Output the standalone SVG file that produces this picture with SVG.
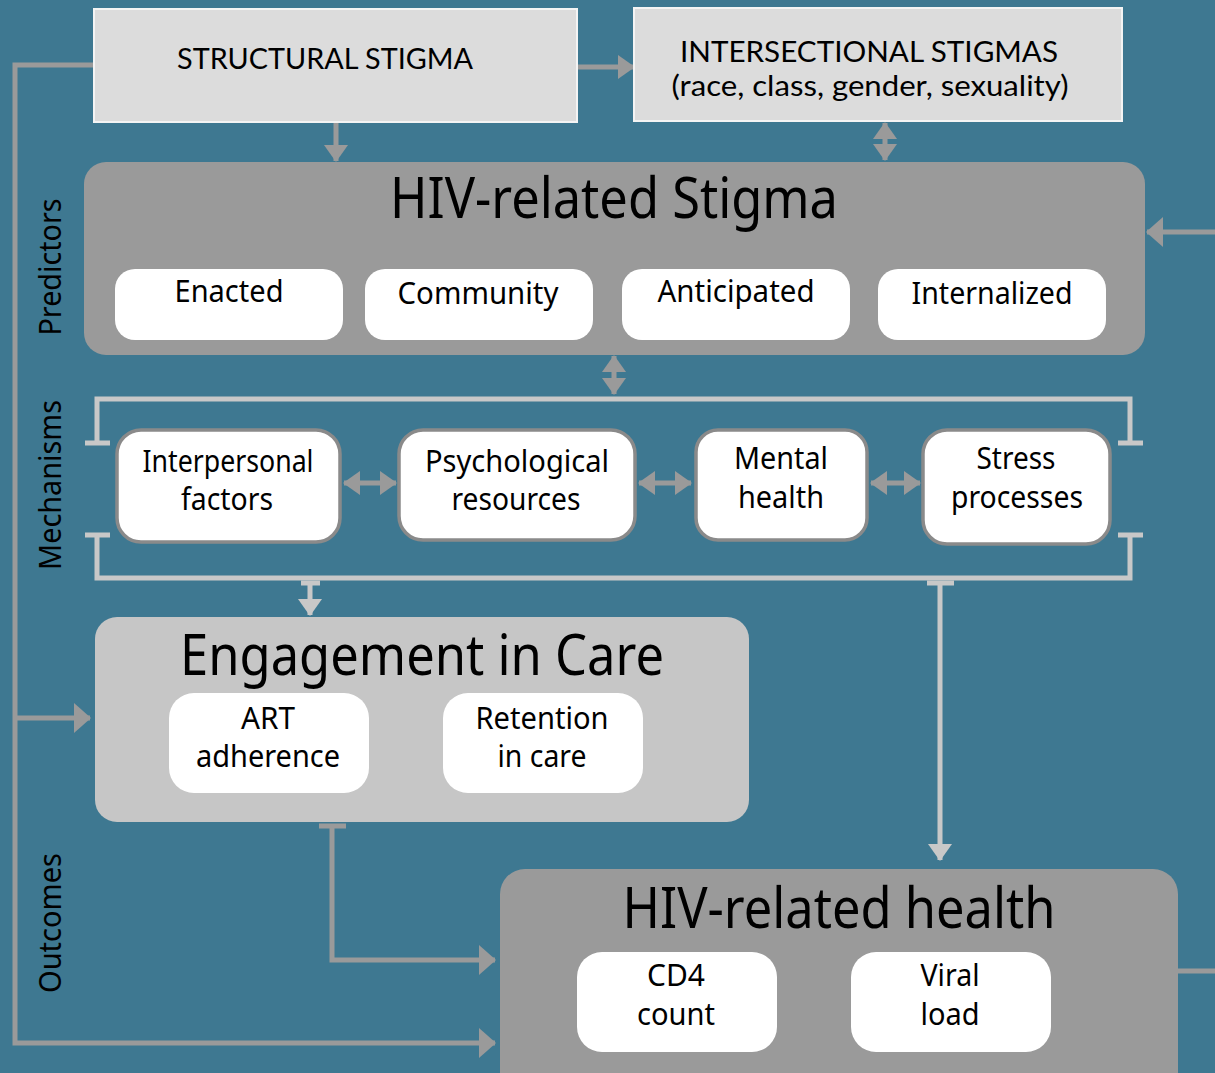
<svg xmlns="http://www.w3.org/2000/svg" width="1215" height="1073" viewBox="0 0 1215 1073">
  <defs>
    <style>
      .txt { font-family: "Noto Sans", "Open Sans", "DejaVu Sans", sans-serif; fill: #000; }
      .geo { font-family: Lato, "Noto Sans", "DejaVu Sans", sans-serif; fill: #000; }
      .title { font-size: 56px; text-anchor: middle; }
      .lbl { font-size: 30px; text-anchor: middle; }
      .side { font-size: 30px; text-anchor: middle; }
      .topbox { fill: #dcdcdc; stroke: #f4f4f4; stroke-width: 2; }
      .panel-dark { fill: #9a9a9a; }
      .panel-light { fill: #c6c6c6; }
      .chip { fill: #ffffff; }
      .mech { fill: #ffffff; stroke: #8a8a8a; stroke-width: 3.5; }
      .gray { fill: none; stroke: #9a9a9a; stroke-width: 5; }
      .light { fill: none; stroke: #c8c8c8; stroke-width: 5; }
      .white { fill: none; stroke: #ffffff; stroke-width: 4; }
    </style>
    <marker id="ahGrayL" markerUnits="userSpaceOnUse" markerWidth="18" markerHeight="30" refX="16" refY="15" orient="auto-start-reverse">
      <path d="M0,0 L17,15 L0,30 Z" fill="#9a9a9a"/>
    </marker>
    <marker id="ahGray" markerUnits="userSpaceOnUse" markerWidth="18" markerHeight="24" refX="16" refY="12" orient="auto-start-reverse">
      <path d="M0,0 L17,12 L0,24 Z" fill="#9a9a9a"/>
    </marker>
    <marker id="ahLight" markerUnits="userSpaceOnUse" markerWidth="18" markerHeight="24" refX="16" refY="12" orient="auto-start-reverse">
      <path d="M0,0 L17,12 L0,24 Z" fill="#c8c8c8"/>
    </marker>
    <marker id="ahWhite" markerUnits="userSpaceOnUse" markerWidth="18" markerHeight="24" refX="16" refY="12" orient="auto-start-reverse">
      <path d="M0,0 L17,12 L0,24 Z" fill="#ffffff"/>
    </marker>
  </defs>

  <!-- backdrop -->
  <rect x="0" y="0" width="1215" height="1073" fill="#3e7891"/>

  <!-- section labels -->
  <g id="section-labels" class="txt side">
    <text class="side" transform="translate(61,267) rotate(-90)" textLength="137" lengthAdjust="spacingAndGlyphs">Predictors</text>
    <text class="side" transform="translate(61,485) rotate(-90)" textLength="170" lengthAdjust="spacingAndGlyphs">Mechanisms</text>
    <text class="side" transform="translate(61,923) rotate(-90)" textLength="140" lengthAdjust="spacingAndGlyphs">Outcomes</text>
  </g>

  <!-- connectors -->
  <g id="connectors">
    <!-- structural stigma feeding the outcome boxes along the left edge -->
    <path class="gray" d="M94,65 H15 V1043 H495" marker-end="url(#ahGrayL)"/>
    <path class="gray" d="M15,718 H90" marker-end="url(#ahGrayL)"/>
    <!-- structural -> intersectional -->
    <path class="gray" d="M578,67 H634" marker-end="url(#ahGray)" stroke-width="4"/>
    <!-- structural -> HIV-related stigma -->
    <path class="gray" d="M336,122 V161" marker-end="url(#ahGray)" stroke-width="4"/>
    <!-- intersectional <-> HIV-related stigma -->
    <path class="gray" d="M885,123 V160" marker-start="url(#ahGray)" marker-end="url(#ahGray)" stroke-width="4"/>
    <!-- feedback into HIV-related stigma from the right -->
    <path class="gray" d="M1215,232 H1147" marker-end="url(#ahGrayL)"/>
    <!-- HIV-related health exits right -->
    <path class="gray" d="M1178,971 H1215"/>
    <!-- HIV-related stigma <-> mechanisms -->
    <path class="gray" d="M614,356 V394" marker-start="url(#ahGray)" marker-end="url(#ahGray)" stroke-width="4"/>

    <!-- mechanisms bracket -->
    <path class="light" d="M97,444 V399 H1130 V444"/>
    <path class="light" d="M85,443 H110 M1118,443 H1143"/>
    <path class="light" d="M97,534 V578 H1130 V534"/>
    <path class="light" d="M85,535 H110 M1118,535 H1143"/>

    <!-- links between mechanisms -->
    <path class="gray" d="M344,483 H396" marker-start="url(#ahGray)" marker-end="url(#ahGray)" stroke-width="4"/>
    <path class="gray" d="M639,483 H691" marker-start="url(#ahGray)" marker-end="url(#ahGray)" stroke-width="4"/>
    <path class="gray" d="M871,483 H920" marker-start="url(#ahGray)" marker-end="url(#ahGray)" stroke-width="4"/>

    <!-- mechanisms -> engagement in care -->
    <path class="light" d="M301,583 H320"/>
    <path class="light" d="M310,583 V615" marker-end="url(#ahLight)" stroke-width="4"/>
    <!-- mechanisms -> HIV-related health -->
    <path class="light" d="M927,583 H954"/>
    <path class="light" d="M940,583 V860" marker-end="url(#ahLight)" stroke-width="4"/>

    <!-- engagement in care -> HIV-related health -->
    <path class="gray" d="M319,826 H346"/>
    <path class="gray" d="M332,826 V960 H495" marker-end="url(#ahGrayL)"/>

    <!-- ART adherence <-> retention -->
    <path class="white" d="M373,742 H439" marker-start="url(#ahWhite)" marker-end="url(#ahWhite)"/>
  </g>

  <!-- top row -->
  <g id="structural-stigma">
    <rect class="topbox" x="94" y="9" width="483" height="113"/>
    <text class="geo" x="325" y="69" font-size="29" text-anchor="middle" textLength="296" lengthAdjust="spacingAndGlyphs">STRUCTURAL STIGMA</text>
  </g>
  <g id="intersectional-stigmas">
    <rect class="topbox" x="634" y="8" width="488" height="113"/>
    <text class="geo" x="869" y="62" font-size="29" text-anchor="middle" textLength="378" lengthAdjust="spacingAndGlyphs">INTERSECTIONAL STIGMAS</text>
    <text class="geo" x="870" y="96" font-size="29" text-anchor="middle" textLength="397" lengthAdjust="spacingAndGlyphs">(race, class, gender, sexuality)</text>
  </g>

  <!-- predictors -->
  <g id="hiv-related-stigma">
    <rect class="panel-dark" x="84" y="162" width="1061" height="193" rx="22"/>
    <text class="txt title" x="614" y="218" textLength="448" lengthAdjust="spacingAndGlyphs">HIV-related Stigma</text>
  </g>
  <g id="enacted">
    <rect class="chip" x="115" y="269" width="228" height="71" rx="20"/>
    <text class="txt lbl" x="229" y="302" textLength="109" lengthAdjust="spacingAndGlyphs">Enacted</text>
  </g>
  <g id="community">
    <rect class="chip" x="365" y="269" width="228" height="71" rx="20"/>
    <text class="txt lbl" x="478" y="304" textLength="161" lengthAdjust="spacingAndGlyphs">Community</text>
  </g>
  <g id="anticipated">
    <rect class="chip" x="622" y="269" width="228" height="71" rx="20"/>
    <text class="txt lbl" x="736" y="302" textLength="157" lengthAdjust="spacingAndGlyphs">Anticipated</text>
  </g>
  <g id="internalized">
    <rect class="chip" x="878" y="269" width="228" height="71" rx="20"/>
    <text class="txt lbl" x="992" y="304" textLength="161" lengthAdjust="spacingAndGlyphs">Internalized</text>
  </g>

  <!-- mechanisms -->
  <g id="interpersonal-factors">
    <rect class="mech" x="117" y="430" width="223" height="112" rx="24"/>
    <text class="txt lbl" x="228" y="472" textLength="171" lengthAdjust="spacingAndGlyphs">Interpersonal</text>
    <text class="txt lbl" x="227" y="510" textLength="92" lengthAdjust="spacingAndGlyphs">factors</text>
  </g>
  <g id="psychological-resources">
    <rect class="mech" x="399" y="430" width="236" height="110" rx="24"/>
    <text class="txt lbl" x="517" y="472" textLength="184" lengthAdjust="spacingAndGlyphs">Psychological</text>
    <text class="txt lbl" x="516" y="510" textLength="129" lengthAdjust="spacingAndGlyphs">resources</text>
  </g>
  <g id="mental-health">
    <rect class="mech" x="696" y="430" width="171" height="110" rx="22"/>
    <text class="txt lbl" x="781" y="469" textLength="94" lengthAdjust="spacingAndGlyphs">Mental</text>
    <text class="txt lbl" x="781" y="508" textLength="86" lengthAdjust="spacingAndGlyphs">health</text>
  </g>
  <g id="stress-processes">
    <rect class="mech" x="923" y="430" width="187" height="114" rx="24"/>
    <text class="txt lbl" x="1016" y="469" textLength="79" lengthAdjust="spacingAndGlyphs">Stress</text>
    <text class="txt lbl" x="1017" y="508" textLength="132" lengthAdjust="spacingAndGlyphs">processes</text>
  </g>

  <!-- outcomes -->
  <g id="engagement-in-care">
    <rect class="panel-light" x="95" y="617" width="654" height="205" rx="22"/>
    <text class="txt title" x="422" y="675" textLength="484" lengthAdjust="spacingAndGlyphs">Engagement in Care</text>
  </g>
  <g id="art-adherence">
    <rect class="chip" x="169" y="693" width="200" height="100" rx="25"/>
    <text class="txt lbl" x="268" y="729" textLength="54" lengthAdjust="spacingAndGlyphs">ART</text>
    <text class="txt lbl" x="268" y="767" textLength="144" lengthAdjust="spacingAndGlyphs">adherence</text>
  </g>
  <g id="retention-in-care">
    <rect class="chip" x="443" y="693" width="200" height="100" rx="25"/>
    <text class="txt lbl" x="542" y="729" textLength="133" lengthAdjust="spacingAndGlyphs">Retention</text>
    <text class="txt lbl" x="542" y="767" textLength="89" lengthAdjust="spacingAndGlyphs">in care</text>
  </g>

  <g id="hiv-related-health">
    <rect class="panel-dark" x="500" y="869" width="678" height="230" rx="25"/>
    <text class="txt title" x="839" y="928" textLength="433" lengthAdjust="spacingAndGlyphs">HIV-related health</text>
  </g>
  <g id="cd4-count">
    <rect class="chip" x="577" y="952" width="200" height="100" rx="25"/>
    <text class="txt lbl" x="676" y="986" textLength="58" lengthAdjust="spacingAndGlyphs">CD4</text>
    <text class="txt lbl" x="676" y="1025" textLength="78" lengthAdjust="spacingAndGlyphs">count</text>
  </g>
  <g id="viral-load">
    <rect class="chip" x="851" y="952" width="200" height="100" rx="25"/>
    <text class="txt lbl" x="950" y="986" textLength="59" lengthAdjust="spacingAndGlyphs">Viral</text>
    <text class="txt lbl" x="950" y="1025" textLength="59" lengthAdjust="spacingAndGlyphs">load</text>
  </g>
</svg>
